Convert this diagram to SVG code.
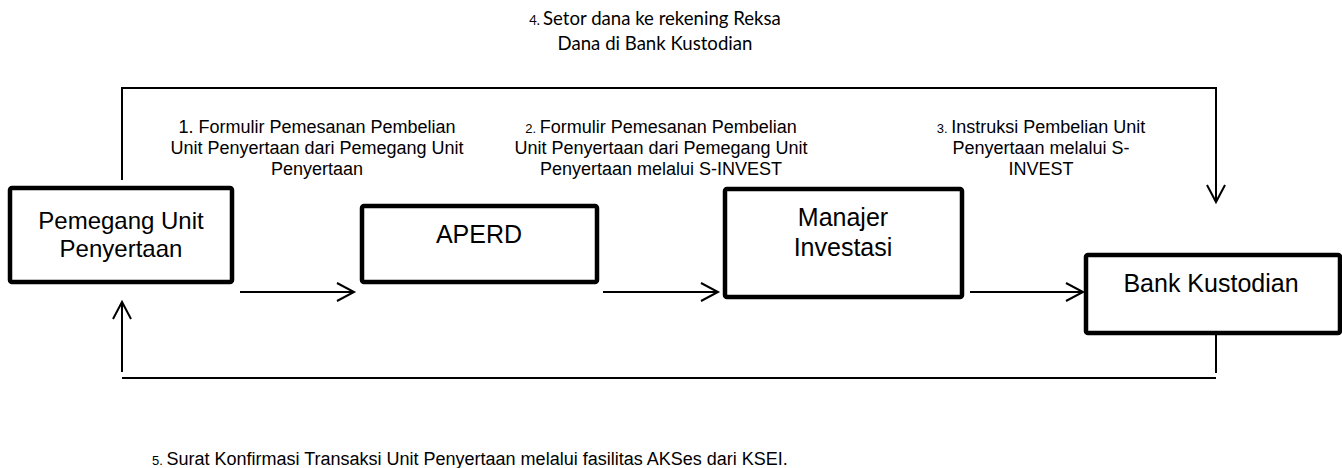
<svg xmlns="http://www.w3.org/2000/svg" width="1342" height="468" viewBox="0 0 1342 468">
<style>
.box{fill:#fff;stroke:#000;stroke-width:4.5;stroke-linejoin:round}
.ln{fill:none;stroke:#000;stroke-width:2}
.nt{font-family:"Liberation Sans",Arial,sans-serif;font-size:24px;fill:#000;text-anchor:middle}
.lb{font-family:"Liberation Sans",Arial,sans-serif;font-size:18px;fill:#000;text-anchor:middle}
.cl{font-family:Lato,"Open Sans",sans-serif;font-size:18.6px;fill:#000;text-anchor:middle}
.sm{font-size:13px}
</style>
<defs>
<marker id="ah" markerUnits="userSpaceOnUse" markerWidth="24" markerHeight="24" viewBox="-20 -12 24 24" refX="0" refY="0" orient="auto">
<path d="M-17,-9 L0,0 L-17,9" fill="none" stroke="#000" stroke-width="2"/>
</marker>
</defs>
<g id="connectors">
<path class="ln" d="M122,180 V88 H1216 V202" marker-end="url(#ah)"/>
<path class="ln" d="M1216,302 V373"/>
<path class="ln" d="M1216,378 H122"/>
<path class="ln" d="M122,372 V302" marker-end="url(#ah)"/>
<path class="ln" d="M240,292 H354" marker-end="url(#ah)"/>
<path class="ln" d="M603,292 H718" marker-end="url(#ah)"/>
<path class="ln" d="M970,292 H1083" marker-end="url(#ah)"/>
</g>
<g id="label4">
<text class="cl" x="655" y="25"><tspan class="sm">4. </tspan>Setor dana ke rekening Reksa</text>
<text class="cl" x="655" y="50">Dana di Bank Kustodian</text>
</g>
<g id="label1">
<text class="lb" x="317" y="133">1.  Formulir Pemesanan Pembelian</text>
<text class="lb" x="317" y="154">Unit Penyertaan dari Pemegang Unit</text>
<text class="lb" x="317" y="175">Penyertaan</text>
</g>
<g id="label2">
<text class="lb" x="661" y="133"><tspan class="sm">2. </tspan>Formulir Pemesanan Pembelian</text>
<text class="lb" x="661" y="154">Unit Penyertaan dari Pemegang Unit</text>
<text class="lb" x="661" y="175">Penyertaan melalui S-INVEST</text>
</g>
<g id="label3">
<text class="lb" x="1041" y="133"><tspan class="sm">3. </tspan>Instruksi Pembelian Unit</text>
<text class="lb" x="1041" y="154">Penyertaan melalui S-</text>
<text class="lb" x="1041" y="175">INVEST</text>
</g>
<g id="pemegang">
<rect class="box" x="10" y="188" width="222" height="94" rx="2"/>
<text class="nt" x="121" y="229">Pemegang Unit</text>
<text class="nt" x="121" y="257">Penyertaan</text>
</g>
<g id="aperd">
<rect class="box" x="362" y="206" width="235" height="76" rx="2"/>
<text class="nt" x="479" y="243" style="font-size:25px">APERD</text>
</g>
<g id="manajer">
<rect class="box" x="725" y="189" width="237" height="108" rx="2"/>
<text class="nt" x="843" y="226" style="font-size:25px">Manajer</text>
<text class="nt" x="843" y="256" style="font-size:25px">Investasi</text>
</g>
<g id="bank">
<rect class="box" x="1086" y="255" width="254" height="78" rx="2"/>
<text class="nt" x="1211" y="292" style="font-size:25px">Bank Kustodian</text>
</g>
<g id="label5">
<text class="lb" x="152" y="465" style="text-anchor:start"><tspan class="sm">5. </tspan> Surat Konfirmasi Transaksi Unit Penyertaan melalui fasilitas AKSes dari KSEI.</text>
</g>
</svg>
